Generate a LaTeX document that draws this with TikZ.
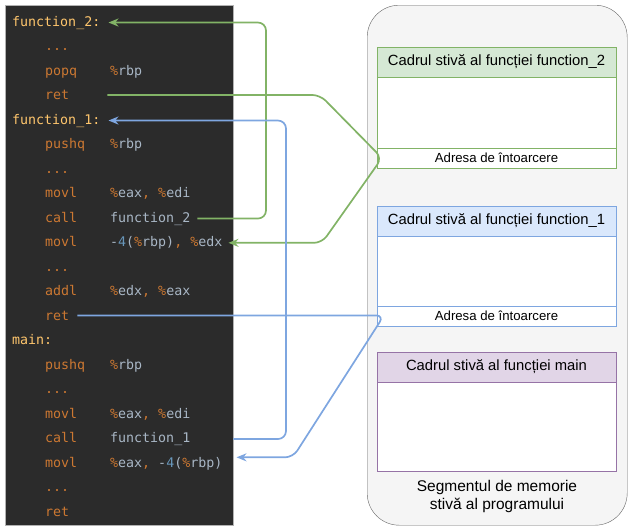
\documentclass[tikz,border=0pt]{standalone}
\usepackage{fontspec}
\setmainfont{Liberation Sans}
\newfontfamily\codefont{DejaVu Sans Mono}
\usepackage{xcolor}
\usetikzlibrary{arrows.meta, positioning}

\definecolor{codebg}{HTML}{2B2B2B}
\definecolor{asmlabel}{HTML}{FFC66D}
\definecolor{asmkw}{HTML}{CC7832}
\definecolor{asmtext}{HTML}{A9B7C6}
\definecolor{asmnumc}{HTML}{6897BB}
\definecolor{greenfill}{HTML}{D5E8D4}
\definecolor{greenline}{HTML}{82B366}
\definecolor{bluefill}{HTML}{DAE8FC}
\definecolor{blueline}{HTML}{7EA6E0}
\definecolor{purplefill}{HTML}{E1D5E7}
\definecolor{purpleline}{HTML}{9673A6}

\newcommand{\asmreg}[1]{{\color{asmkw}\%}#1}
\newcommand{\asmsep}{{\color{asmkw},}}
\newcommand{\asmnum}[1]{{\color{asmnumc}#1}}

\begin{document}
\begin{tikzpicture}[
x=1pt, y=-1pt,
lbl/.style={anchor=base west, inner sep=0pt, text=asmlabel, font=\codefont\fontsize{13.3}{16}\selectfont},
mnem/.style={lbl, text=asmkw},
oper/.style={lbl, text=asmtext},
hdr/.style={draw, minimum width=239pt, minimum height=29.5pt, inner sep=0pt, font=\fontsize{14.8}{17}\selectfont},
body/.style={draw, fill=white, minimum width=239pt, inner sep=0pt},
addr/.style={draw, fill=white, minimum width=239pt, minimum height=19.5pt, inner sep=0pt, font=\fontsize{13.2}{15}\selectfont},
arrow/.style={-{Stealth[length=10pt, width=8pt]}, line width=1.7pt, rounded corners=8pt}
]
\useasboundingbox (0,0) rectangle (632,531);

% code panel
\node (code) [draw=gray!60, fill=codebg, anchor=north west, minimum width=228pt, minimum height=520pt, inner sep=0pt] at (5,5) {};

\node (f2lbl) [lbl] at (12,26) {function\_2:};
\node (f2dots) [mnem] at (45,50.5) {...};
\node (f2pop) [mnem] at (45,75) {popq};
\node (f2popop) [oper] at (110,75) {\asmreg{rbp}};
\node (f2ret) [mnem] at (45,99.5) {ret};
\node (f1lbl) [lbl] at (12,124) {function\_1:};
\node (f1push) [mnem] at (45,148.5) {pushq};
\node (f1pushop) [oper] at (110,148.5) {\asmreg{rbp}};
\node (f1dots) [mnem] at (45,173) {...};
\node (f1mov) [mnem] at (45,197.5) {movl};
\node (f1movop) [oper] at (110,197.5) {\asmreg{eax}\asmsep\ \asmreg{edi}};
\node (f1call) [mnem] at (45,222) {call};
\node (f1callop) [oper] at (110,222) {function\_2};
\node (f1back) [mnem] at (45,246.5) {movl};
\node (f1backop) [oper] at (110,246.5) {-\asmnum{4}(\asmreg{rbp})\asmsep\ \asmreg{edx}};
\node (f1dotsb) [mnem] at (45,271) {...};
\node (f1add) [mnem] at (45,295.5) {addl};
\node (f1addop) [oper] at (110,295.5) {\asmreg{edx}\asmsep\ \asmreg{eax}};
\node (f1ret) [mnem] at (45,320) {ret};
\node (mainlbl) [lbl] at (12,344.5) {main:};
\node (mainpush) [mnem] at (45,369) {pushq};
\node (mainpushop) [oper] at (110,369) {\asmreg{rbp}};
\node (maindots) [mnem] at (45,393.5) {...};
\node (mainmov) [mnem] at (45,418) {movl};
\node (mainmovop) [oper] at (110,418) {\asmreg{eax}\asmsep\ \asmreg{edi}};
\node (maincall) [mnem] at (45,442.5) {call};
\node (maincallop) [oper] at (110,442.5) {function\_1};
\node (mainback) [mnem] at (45,467) {movl};
\node (mainbackop) [oper] at (110,467) {\asmreg{eax}\asmsep\ -\asmnum{4}(\asmreg{rbp})};
\node (maindotsb) [mnem] at (45,491.5) {...};
\node (mainret) [mnem] at (45,516) {ret};

% stack segment
\node (stack) [draw=gray!80!black, fill=black!4, rounded corners=32pt, anchor=north west, minimum width=260pt, minimum height=520pt] at (367,5) {};

\node (f2head) [hdr, fill=greenfill, draw=greenline, anchor=north] at (496.5,47) {Cadrul stivă al funcției function\_2};
\node (f2body) [body, draw=greenline, minimum height=71pt, below=0pt of f2head] {};
\node (f2addr) [addr, draw=greenline, below=0pt of f2body] {Adresa de întoarcere};

\node (f1head) [hdr, fill=bluefill, draw=blueline, anchor=north] at (496.5,206) {Cadrul stivă al funcției function\_1};
\node (f1body) [body, draw=blueline, minimum height=70pt, below=0pt of f1head] {};
\node (f1addr) [addr, draw=blueline, below=0pt of f1body] {Adresa de întoarcere};

\node (mainhead) [hdr, fill=purplefill, draw=purpleline, anchor=north] at (496.5,352) {Cadrul stivă al funcției main};
\node (mainbody) [body, draw=purpleline, minimum height=89pt, below=0pt of mainhead] {};

\node (stacklbl) [align=center, font=\fontsize{15.5}{18}\selectfont] at (497,496.5) {Segmentul de memorie\\stivă al programului};

% calls and returns
\coordinate (g2a) at (320,0);
\coordinate (g2b) at (382,158);
\coordinate (g2c) at (322,0);
\coordinate (b2a) at (384,0);
\coordinate (b2b) at (293,0);
\coordinate (f1in) at ([xshift=6pt]f1backop.east);
\coordinate (mainin) at ([shift={(14pt,6pt)}]mainbackop.east);

\draw[arrow, greenline] ([xshift=7pt]f1callop.east) -| (266,120) |- ([xshift=8pt]f2lbl.east);
\draw[arrow, greenline] ([xshift=38pt]f2ret.east) -- (f2ret.east -| g2a) -- (g2b) -- (f1in -| g2c) -- (f1in);
\draw[arrow, blueline] (code.east |- maincallop.east) -| (286,300) |- ([xshift=8pt]f1lbl.east);
\draw[arrow, blueline] ([xshift=8pt]f1ret.east) -- (f1ret.east -| b2a) -- (mainin -| b2b) -- (mainin);

\end{tikzpicture}
\end{document}
